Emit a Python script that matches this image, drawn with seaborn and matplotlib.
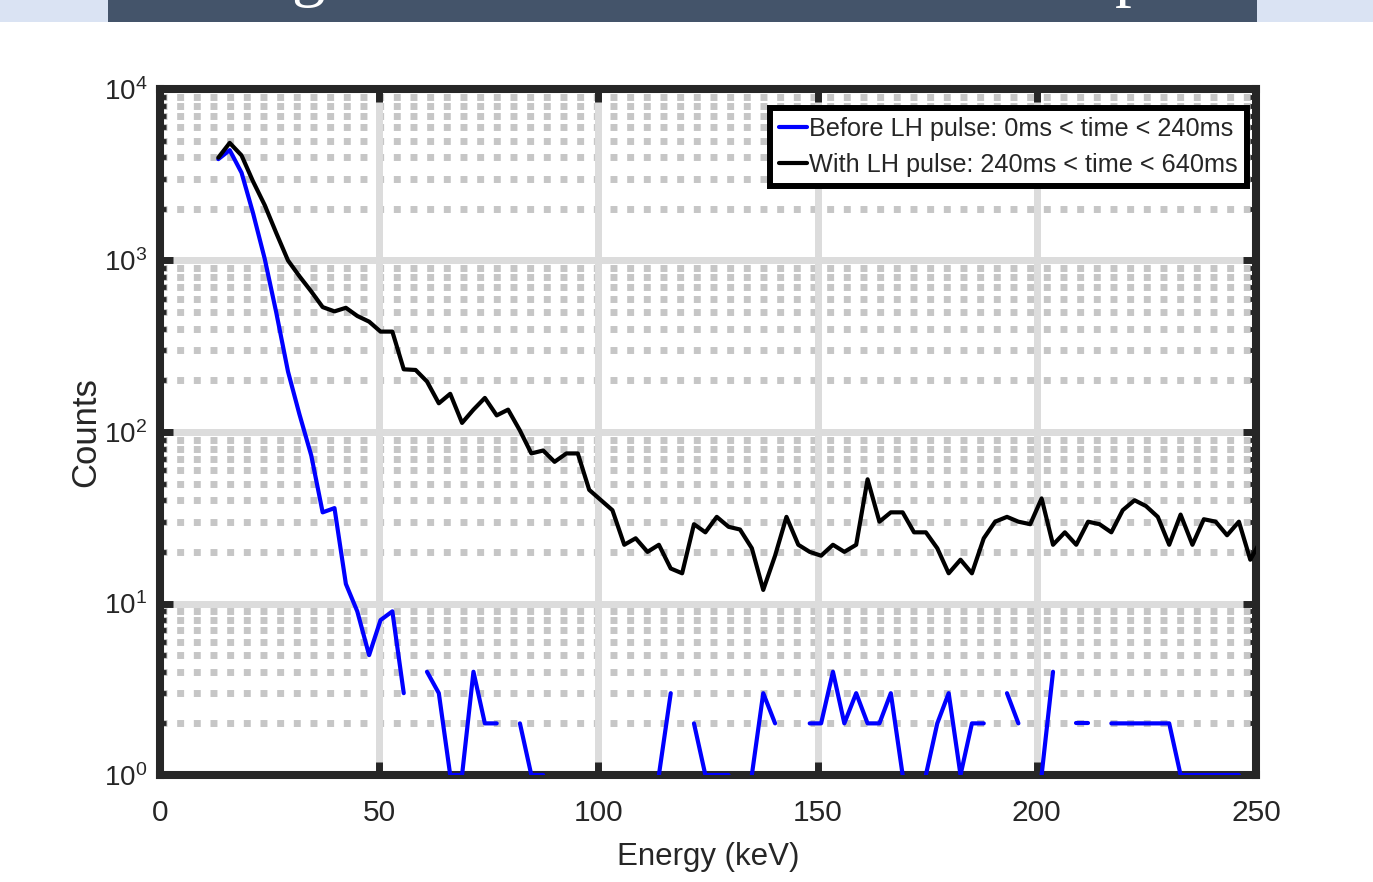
import numpy as np
import pandas as pd
import matplotlib
matplotlib.use("Agg")
import matplotlib.pyplot as plt
import seaborn as sns
from matplotlib.ticker import FixedLocator, LogLocator, FuncFormatter, NullFormatter
from matplotlib.patches import Rectangle

# ---------------- data ----------------
energy_kev = [13.3, 15.9, 18.6, 21.2, 23.9, 26.5, 29.2, 31.8, 34.5, 37.1,
              39.8, 42.4, 45.0, 47.7, 50.3, 53.0, 55.6, 58.3, 60.9, 63.6,
              66.2, 68.9, 71.5, 74.1, 76.8, 79.4, 82.1, 84.7, 87.4, 90.0,
              92.7, 95.3, 97.9, 100.6, 103.2, 105.9, 108.5, 111.2, 113.8, 116.5,
              119.1, 121.8, 124.4, 127.0, 129.7, 132.3, 135.0, 137.6, 140.3, 142.9,
              145.6, 148.2, 150.8, 153.5, 156.1, 158.8, 161.4, 164.1, 166.7, 169.4,
              172.0, 174.7, 177.3, 179.9, 182.6, 185.2, 187.9, 190.5, 193.2, 195.8,
              198.5, 201.1, 203.7, 206.4, 209.0, 211.7, 214.3, 217.0, 219.6, 222.3,
              224.9, 227.6, 230.2, 232.8, 235.5, 238.1, 240.8, 243.4, 246.1, 248.7,
              251.4]

counts_before = [3900, 4400, 3250, 1900, 1020, 500, 225, 127, 73, 34,
                 36, 13, 9, 5, 8, 9, 3, 0, 4, 3,
                 1, 1, 4, 2, 2, 0, 2, 1, 1, 0,
                 0, 0, 0, 0, 0, 0, 0, 0, 1, 3,
                 0, 2, 1, 1, 1, 0, 1, 3, 2, 0,
                 0, 2, 2, 4, 2, 3, 2, 2, 3, 1,
                 0, 1, 2, 3, 1, 2, 2, 0, 3, 2,
                 0, 1, 4, 0, 2, 2, 0, 2, 2, 2,
                 2, 2, 2, 1, 1, 1, 1, 1, 1, 0,
                 0]

counts_with = [3980, 4850, 4100, 2900, 2100, 1450, 1000, 810, 660, 535,
               505, 530, 475, 440, 385, 385, 232, 230, 197, 147,
               167, 113, 135, 158, 125, 135, 102, 75, 78, 67,
               75, 75, 46, 40, 35, 22, 24, 20, 22, 16,
               15, 29, 26, 32, 28, 27, 21, 12, 19, 32,
               22, 20, 19, 22, 20, 22, 53, 30, 34, 34,
               26, 26, 21, 15, 18, 15, 24, 30, 32, 30,
               29, 41, 22, 26, 22, 30, 29, 26, 35, 40,
               37, 32, 22, 33, 22, 31, 30, 25, 30, 18,
               24]

series_labels = ["Before LH pulse: 0ms < time < 240ms",
                 "With LH pulse: 240ms < time < 640ms"]
series_colors = ["#0000ff", "#000000"]
x_ticks = [0, 50, 100, 150, 200, 250]
x_label = "Energy (keV)"
y_label = "Counts"

# ---------------- long-form table (zero counts break the line on log axis) ----------------
rows = []
for label, vals in zip(series_labels, [counts_before, counts_with]):
    seg = 0
    prev = False
    for e, v in zip(energy_kev, vals):
        if v > 0:
            if not prev:
                seg += 1
            rows.append({"Energy": e, "Counts": v, "Series": label, "Segment": f"{label}#{seg}"})
            prev = True
        else:
            prev = False
df = pd.DataFrame(rows)

# ---------------- style ----------------
sns.set_style("ticks")
plt.rcParams["font.family"] = ["Liberation Sans", "DejaVu Sans"]
plt.rcParams["mathtext.default"] = "regular"
dark = "#262626"

fig = plt.figure(figsize=(13.73, 8.82), dpi=100)
fig.patch.set_facecolor("white")

# slide banner at top
fig.add_artist(Rectangle((0, 1 - 22 / 882), 1, 22 / 882, transform=fig.transFigure,
                         facecolor="#dae3f3", edgecolor="none", zorder=0))
fig.add_artist(Rectangle((108 / 1373, 1 - 22 / 882), (1257 - 108) / 1373, 22 / 882,
                         transform=fig.transFigure, facecolor="#44546a", edgecolor="none", zorder=1))
fig.text(308 / 1373, 1 + 6 / 882, "g", color="white", fontsize=48, family="Liberation Serif",
         ha="center", va="baseline", zorder=2)
fig.text(1132 / 1373, 1 + 6 / 882, "p", color="white", fontsize=48, family="Liberation Serif",
         ha="center", va="baseline", zorder=2)

ax = fig.add_axes([160 / 1373, 107 / 882, 1096 / 1373, 686 / 882])
ax.set_facecolor("white")

sns.lineplot(data=df, x="Energy", y="Counts", hue="Series", hue_order=series_labels,
             palette=series_colors, units="Segment", estimator=None, linewidth=3.0, ax=ax)

ax.set_yscale("log")
ax.set_xlim(0, 250)
ax.set_ylim(1, 1e4)

ax.xaxis.set_major_locator(FixedLocator(x_ticks))
ax.yaxis.set_major_locator(LogLocator(base=10, numticks=10))
ax.yaxis.set_minor_locator(LogLocator(base=10, subs=np.arange(2, 10), numticks=20))
ax.yaxis.set_minor_formatter(NullFormatter())
ax.yaxis.set_major_formatter(FuncFormatter(lambda v, p: r"$\mathregular{10^{%d}}$" % round(np.log10(v))))

ax.grid(which="major", color="#dcdcdc", linewidth=5, linestyle="-")
ax.yaxis.grid(which="minor", color="#c6c6c6", linewidth=5, linestyle=(0, (1, 1.4)))
ax.set_axisbelow(True)
ax.xaxis.set_zorder(0.7)   # x ticks drawn over the dotted y grid rows

ax.tick_params(which="both", direction="in", top=True, right=True, color=dark, labelcolor=dark)
ax.tick_params(which="major", length=9.5, width=5)
ax.tick_params(which="minor", length=4, width=3.5)
ax.tick_params(axis="x", which="minor", bottom=False, top=False)
ax.tick_params(axis="x", labelsize=21.5, pad=17)
ax.tick_params(axis="y", labelsize=20, pad=9)

for s in ax.spines.values():
    s.set_linewidth(5.8)
    s.set_color(dark)
    s.set_zorder(1.5)

ax.set_xlabel(x_label, fontsize=22.5, color=dark)
ax.xaxis.set_label_coords(0.5, -0.097)
ax.set_ylabel(y_label, fontsize=25, color=dark)
ax.yaxis.set_label_coords(-0.053, 0.5)

handles, labels = ax.get_legend_handles_labels()
leg = ax.legend(handles, labels, loc="upper right", bbox_to_anchor=(0.992, 0.973),
                borderaxespad=0, fontsize=18.2, frameon=True, fancybox=False,
                handlelength=1.1, handletextpad=0.08, borderpad=0.38, labelspacing=0.45,
                framealpha=1, edgecolor="black")
leg.get_frame().set_linewidth(4.3)
for h in leg.get_lines():
    h.set_linewidth(3)

fig.savefig("out.png", dpi=100)
